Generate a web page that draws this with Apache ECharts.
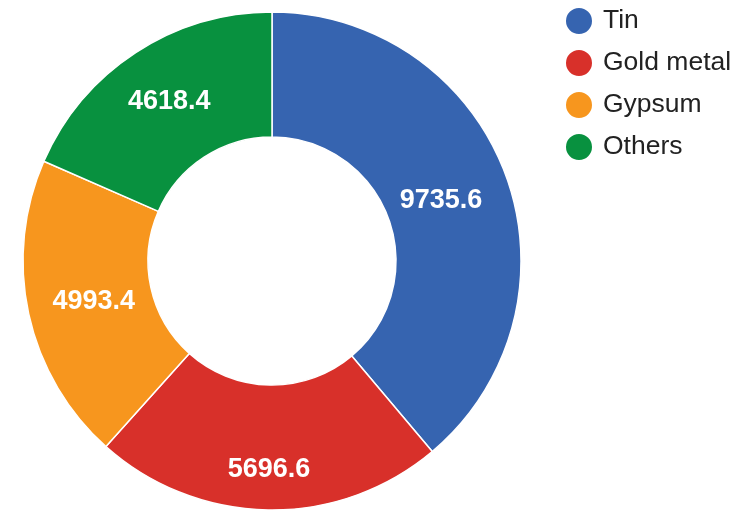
<!DOCTYPE html>
<html><head><meta charset="utf-8">
<script src="https://cdn.jsdelivr.net/npm/echarts@6/dist/echarts.min.js"></script>
<style>html,body{margin:0;padding:0;background:#fff}#c{width:750px;height:512px}</style>
</head><body><div id="c"></div>
<script>
const categories = ["Tin", "Gold metal", "Gypsum", "Others"];
const values = [9735.6, 5696.6, 4993.4, 4618.4];
const colors = ["#3664b0", "#d8302a", "#f7961e", "#08913f"];

// label nudges to mimic the original's label placement (style only)
const labelNudge = { "Tin": [-9, 4], "Gold metal": [0, 19], "Gypsum": [7, 0], "Others": [1, -1] };

const FONT = "Liberation Sans, Arial, sans-serif";
const chart = echarts.init(document.getElementById('c'));
chart.setOption({
  animation: false,
  color: colors,
  textStyle: { fontFamily: FONT },
  legend: {
    orient: 'vertical', left: 559, top: 1,
    icon: 'circle', itemWidth: 28, itemHeight: 28, itemGap: 12,
    textStyle: { fontSize: 26.5, lineHeight: 28, color: '#222', fontFamily: FONT, padding: [0, 0, 0, 5] },
    data: categories
  },
  series: [{
    type: 'pie',
    center: [272, 261],
    radius: [124, 249],
    startAngle: 90,
    clockwise: true,
    avoidLabelOverlap: false,
    itemStyle: { borderColor: '#fff', borderWidth: 1.5 },
    label: {
      position: 'inside', color: '#fff', fontSize: 27, fontWeight: 'bold',
      fontFamily: FONT,
      formatter: p => p.value.toFixed(1)
    },
    labelLine: { show: false },
    data: categories.map((n, i) => ({ name: n, value: values[i], label: { offset: labelNudge[n] } }))
  }]
});
</script></body></html>
